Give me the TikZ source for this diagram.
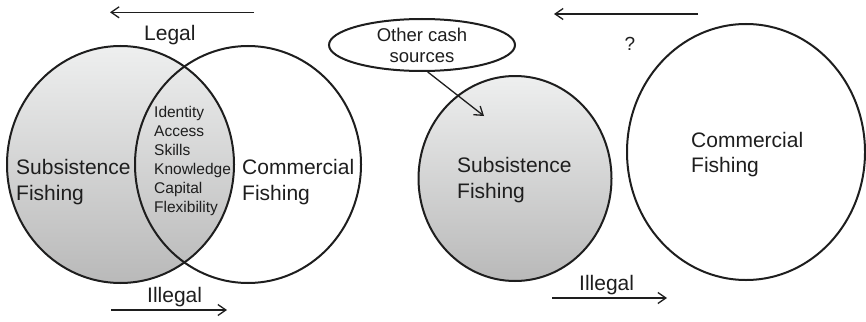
\documentclass[tikz,border=0pt]{standalone}
\usepackage{fontspec}
\setmainfont{Liberation Sans}
\usetikzlibrary{arrows.meta,shapes.geometric}
\definecolor{ink}{HTML}{1E1E1E}
\definecolor{shtop}{HTML}{EEEFEF}
\definecolor{shbot}{HTML}{B9B9B9}
\tikzset{
  circ/.style={ellipse, draw=ink, line width=2pt, inner sep=0pt},
  shaded/.style={top color=shtop, bottom color=shbot},
  big/.style={font=\fontsize{21}{25.5}\selectfont, text=ink, inner sep=0pt, align=left, anchor=base west},
  small/.style={font=\fontsize{15.5}{19}\selectfont, text=ink, inner sep=0pt, align=left, anchor=base west},
  flow/.style={draw=ink, line width=1.3pt, -{Straight Barb[length=8pt,width=11pt]}}
}
\begin{document}
\begin{tikzpicture}[x=1pt,y=-1pt]
\useasboundingbox (0,0) rectangle (866,321);
% left Venn
\node[circ, shaded, minimum width=227pt, minimum height=237pt] (subL) at (120.5,164.5) {};
\node[circ, minimum width=226pt, minimum height=237pt] (comL) at (248,164.5) {};
\node[big] (subLt) at (16,200) {Subsistence\\Fishing};
\node[small] (list) at (154,212) {Identity\\Access\\Skills\\Knowledge\\Capital\\Flexibility};
\node[big] (comLt) at (242,200) {Commercial\\Fishing};
\node[big] (legal) at (144,41) {Legal};
\node[big] (illegalL) at (147,302) {Illegal};
\coordinate (a1s) at (254,12.3);
\coordinate (a1e) at (110,12.3);
\draw[flow] (a1s) -- (a1e);
\coordinate (a2s) at (111,310);
\coordinate (a2e) at (227,310);
\draw[flow] (a2s) -- (a2e);
% right side
\node[circ, shaded, minimum width=193pt, minimum height=205pt] (subR) at (515,178.5) {};
\node[circ, minimum width=238pt, minimum height=256pt] (comR) at (746,152) {};
\node[big] (subRt) at (457,198) {Subsistence\\Fishing};
\node[big, font=\fontsize{21}{25}\selectfont] (comRt) at (691,172) {Commercial\\Fishing};
\node[circ, fill=white, minimum width=186pt, minimum height=52pt] (oval) at (422,45) {};
\node[font=\fontsize{18.5}{21}\selectfont, text=ink, inner sep=0pt, align=center, anchor=base] (ovt) at (422,63) {Other cash\\sources};
\coordinate (ovtip) at (484,116);
\draw[flow] (oval.282) -- (ovtip);
\node[big, anchor=base, font=\fontsize{19}{22}\selectfont] (q) at (630,51) {?};
\node[big] (illegalR) at (579,290) {Illegal};
\coordinate (a3s) at (698,14);
\coordinate (a3e) at (554,14);
\draw[flow] (a3s) -- (a3e);
\coordinate (a4s) at (552,298);
\coordinate (a4e) at (667,298);
\draw[flow] (a4s) -- (a4e);
\end{tikzpicture}
\end{document}
